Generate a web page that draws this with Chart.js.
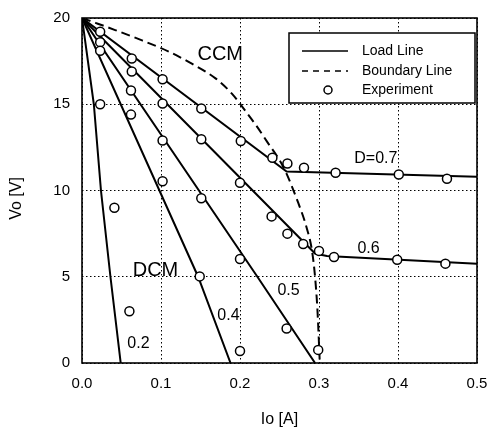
<!DOCTYPE html>
<html>
<head>
<meta charset="utf-8">
<script src="https://cdn.jsdelivr.net/npm/chart.js@4.4.1/dist/chart.umd.min.js"></script>
<style>
html,body{margin:0;padding:0;background:#fff}
#wrap{width:496px;height:431px}
</style>
</head>
<body>
<div id="wrap"><canvas id="c" width="496" height="431"></canvas></div>
<script>
// axes
const X_TICKS = [0, 0.1, 0.2, 0.3, 0.4, 0.5];
const Y_TICKS = [0, 5, 10, 15, 20];

// load lines (Io [A], Vo [V]) for each duty ratio
const load02Io = [0, 0.015, 0.024, 0.036, 0.049];
const load02Vo = [20, 15, 10, 5, 0];
const load04Io = [0, 0.098, 0.147, 0.188];
const load04Vo = [20, 10, 5, 0];
const load05Io = [0, 0.222, 0.295];
const load05Vo = [20, 5, 0];
const load06Io = [0, 0.295, 0.31, 0.5];
const load06Vo = [20, 6.35, 6.2, 5.75];
const load07Io = [0, 0.259, 0.5];
const load07Vo = [20, 11.1, 10.8];

// CCM / DCM boundary
const boundIo = [0, 0.017, 0.042, 0.076, 0.11, 0.139, 0.169, 0.19, 0.207, 0.22, 0.234, 0.255, 0.274, 0.284, 0.291, 0.295, 0.298, 0.3, 0.301];
const boundVo = [20, 19.72, 19.3, 18.7, 18.05, 17.35, 16.5, 15.6, 14.6, 13.8, 12.85, 11.35, 9.25, 7.9, 6.55, 5.0, 3.1, 1.1, 0];

// measured points
const expIo = [0.023, 0.023, 0.023, 0.023, 0.041, 0.06,
  0.063, 0.063, 0.062, 0.062,
  0.102, 0.102, 0.102, 0.102,
  0.151, 0.151, 0.151, 0.149,
  0.201, 0.2, 0.2, 0.2,
  0.241, 0.26, 0.281, 0.321, 0.401, 0.462,
  0.24, 0.26, 0.28, 0.3, 0.319, 0.399, 0.46,
  0.259, 0.299];
const expVo = [19.2, 18.6, 18.1, 15.0, 9.0, 3.0,
  17.65, 16.9, 15.8, 14.4,
  16.45, 15.04, 12.9, 10.54,
  14.75, 12.97, 9.55, 5.02,
  12.87, 10.45, 6.03, 0.7,
  11.9, 11.57, 11.32, 11.03, 10.93, 10.68,
  8.5, 7.5, 6.9, 6.5, 6.14, 5.99, 5.76,
  2.0, 0.76];

// text in the plot, anchored in data units
const noteText = ['CCM', 'DCM', '0.2', '0.4', '0.5', '0.6', 'D=0.7'];
const noteIo   = [0.175, 0.093, 0.0715, 0.1854, 0.2614, 0.3627, 0.372];
const noteVo   = [17.9, 5.39, 1.1, 2.72, 4.17, 6.61, 11.83];
const noteSize = [20, 20, 16, 16, 16, 16, 16];

const FONT = "'Liberation Sans', Arial, sans-serif";
const pts = (xs, ys) => xs.map((x, i) => ({x, y: ys[i]}));

const loadSets = [[load02Io, load02Vo], [load04Io, load04Vo], [load05Io, load05Vo], [load06Io, load06Vo], [load07Io, load07Vo]]
  .map(([xs, ys]) => ({label:'Load Line', data:pts(xs, ys), showLine:true, borderColor:'#000', borderWidth:2, pointRadius:0, tension:0}));

const Frame = {
  id:'frame',
  afterDraw(chart){
    const {left, right, top, bottom} = chart.chartArea;
    const ctx = chart.ctx;
    ctx.save();
    ctx.strokeStyle = '#000'; ctx.lineWidth = 1.6;
    ctx.strokeRect(left, top, right - left, bottom - top);
    ctx.restore();
  }
};

const Notes = {
  id:'notes',
  afterDatasetsDraw(chart){
    const ctx = chart.ctx, xs = chart.scales.x, ys = chart.scales.y;
    ctx.save();
    ctx.fillStyle = '#000'; ctx.textAlign = 'center'; ctx.textBaseline = 'middle';
    noteText.forEach((t, i) => {
      ctx.font = noteSize[i] + 'px ' + FONT;
      ctx.fillText(t, xs.getPixelForValue(noteIo[i]), ys.getPixelForValue(noteVo[i]));
    });
    // y axis title, sits a little below the middle in the original
    ctx.font = '16px ' + FONT;
    ctx.translate(17, (chart.chartArea.top + chart.chartArea.bottom) / 2 + 8);
    ctx.rotate(-Math.PI / 2);
    ctx.fillText('Vo [V]', 0, 0);
    ctx.restore();
  }
};

const LegendBox = {
  id:'legendBox',
  afterDraw(chart){
    const ctx = chart.ctx, a = chart.chartArea;
    const w = 186, h = 70, l = a.right - 2 - w, t = a.top + 15;
    ctx.save();
    ctx.fillStyle = '#fff'; ctx.fillRect(l, t, w, h);
    ctx.strokeStyle = '#000'; ctx.lineWidth = 1.5; ctx.strokeRect(l, t, w, h);
    ctx.font = '14px ' + FONT; ctx.fillStyle = '#000'; ctx.textBaseline = 'middle';
    // solid
    ctx.lineWidth = 1.6;
    ctx.beginPath(); ctx.moveTo(l + 13, t + 18); ctx.lineTo(l + 59, t + 18); ctx.stroke();
    ctx.fillText(chart.data.datasets[1].label, l + 73, t + 18);
    // dashed
    ctx.setLineDash([6, 5]);
    ctx.beginPath(); ctx.moveTo(l + 13, t + 38); ctx.lineTo(l + 59, t + 38); ctx.stroke();
    ctx.setLineDash([]);
    ctx.fillText(chart.data.datasets[6].label, l + 73, t + 38);
    // circle
    ctx.beginPath(); ctx.arc(l + 39, t + 57, 4, 0, Math.PI * 2); ctx.fillStyle = '#fff'; ctx.fill();
    ctx.lineWidth = 1.5; ctx.stroke();
    ctx.fillStyle = '#000';
    ctx.fillText(chart.data.datasets[0].label, l + 73, t + 57);
    ctx.restore();
  }
};

new Chart(document.getElementById('c').getContext('2d'), {
  type:'scatter',
  data:{datasets:[
    {label:'Experiment', data:pts(expIo, expVo), pointRadius:4.5, pointBorderWidth:1.5, pointBackgroundColor:'#fff', pointBorderColor:'#000', showLine:false},
    ...loadSets,
    {label:'Boundary Line', data:pts(boundIo, boundVo), showLine:true, borderColor:'#000', borderWidth:2, borderDash:[9, 5], pointRadius:0, cubicInterpolationMode:'monotone'}
  ]},
  options:{
    responsive:false, animation:false,
    layout:{padding:{left:0, right:19, top:18, bottom:0}},
    plugins:{legend:{display:false}, tooltip:{enabled:false}},
    scales:{
      x:{type:'linear', min:0, max:0.5,
        afterBuildTicks: s => { s.ticks = X_TICKS.map(v => ({value:v})); },
        afterFit: s => { s.height = 68; s.paddingLeft = 0; s.paddingRight = 0; },
        grid:{color:'#000', lineWidth:1, drawTicks:false},
        border:{display:false, dash:[1.5, 2.5]},
        ticks:{color:'#000', padding:12, font:{family:FONT, size:15}, callback:v => v.toFixed(1)},
        title:{display:true, text:'Io [A]', color:'#000', font:{family:FONT, size:16}, padding:{top:0, bottom:2}}
      },
      y:{type:'linear', min:0, max:20,
        afterBuildTicks: s => { s.ticks = Y_TICKS.map(v => ({value:v})); },
        afterFit: s => { s.width = 82; s.paddingTop = 0; s.paddingBottom = 0; },
        grid:{color:'#000', lineWidth:1, drawTicks:false},
        border:{display:false, dash:[1.5, 2.5]},
        ticks:{color:'#000', padding:12, font:{family:FONT, size:15}},
        title:{display:false}
      }
    }
  },
  plugins:[Frame, Notes, LegendBox]
});
</script>
</body>
</html>
